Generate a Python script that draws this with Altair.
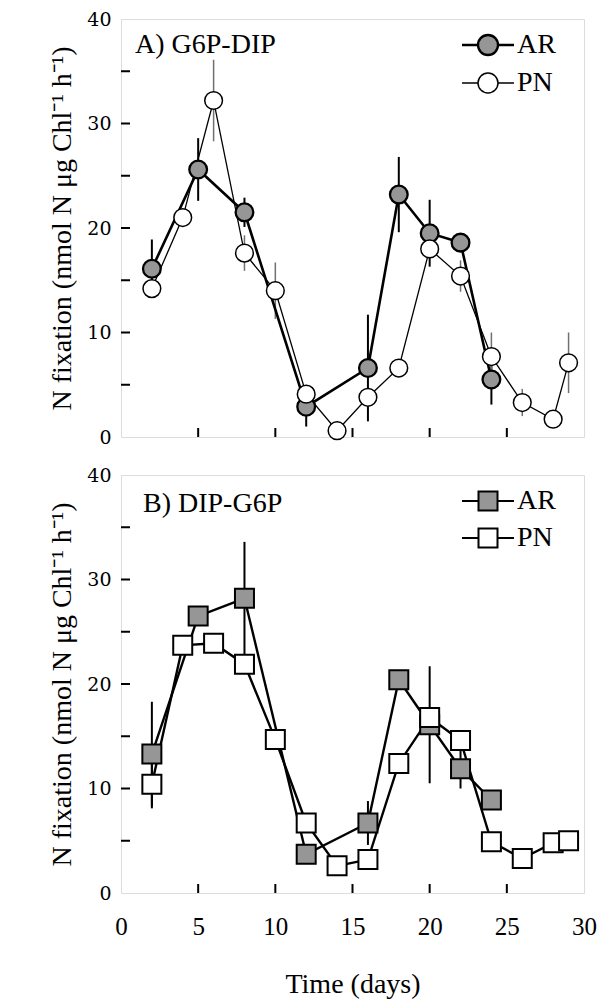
import altair as alt
import pandas as pd

# ---------------- data ----------------
days_A_AR = [2, 5, 8, 12, 16, 18, 20, 22, 24]
vals_A_AR = [16.1, 25.6, 21.5, 2.9, 6.6, 23.2, 19.5, 18.6, 5.5]
errs_A_AR = [2.8, 3.0, 1.4, 1.9, 5.1, 3.6, 3.2, 0.0, 2.4]

days_A_PN = [2, 4, 6, 8, 10, 12, 14, 16, 18, 20, 22, 24, 26, 28, 29]
vals_A_PN = [14.2, 21.0, 32.2, 17.6, 14.0, 4.1, 0.6, 3.8, 6.6, 18.0, 15.4, 7.7, 3.3, 1.7, 7.1]
errs_A_PN = [0.0, 0.0, 3.9, 1.7, 2.7, 0.0, 0.0, 0.0, 0.0, 0.0, 1.5, 2.3, 1.3, 0.0, 2.9]

days_B_AR = [2, 5, 8, 12, 16, 18, 20, 22, 24]
vals_B_AR = [13.3, 26.5, 28.2, 3.7, 6.7, 20.4, 16.1, 11.9, 8.9]
errs_B_AR = [5.0, 0.0, 5.4, 0.0, 2.1, 0.0, 5.6, 1.9, 0.4]

days_B_PN = [2, 4, 6, 8, 10, 12, 14, 16, 18, 20, 22, 24, 26, 28, 29]
vals_B_PN = [10.4, 23.7, 23.9, 21.9, 14.7, 6.7, 2.6, 3.2, 12.4, 16.8, 14.6, 4.9, 3.3, 4.8, 5.0]
errs_B_PN = [2.3, 0.0, 0.0, 0.0, 0.0, 0.0, 0.0, 0.0, 0.0, 0.0, 0.0, 0.0, 0.0, 0.0, 0.0]

series_names = ["AR", "PN"]
panel_labels = ["A) G6P-DIP", "B) DIP-G6P"]
y_label_values = [0, 10, 20, 30, 40]
y_tick_values = [5, 10, 15, 20, 25, 30, 35]
x_label_values = [0, 5, 10, 15, 20, 25, 30]
x_tick_values = [5, 10, 15, 20, 25]

Y_TITLE = "N fixation (nmol N \u03bcg Chl\u207b\u00b9 h\u207b\u00b9)"
SERIF = "Liberation Serif, Times New Roman, serif"
GRAY = "#969696"
W, H = 463, 418


def frame(days, vals, errs, name):
    return pd.DataFrame({
        "day": days, "value": vals, "err": errs,
        "lo": [v - e for v, e in zip(vals, errs)],
        "hi": [v + e for v, e in zip(vals, errs)],
        "series": name,
    })


CIRCLE_PATH = "M-2.6,0H-1A1,1,0,1,1,1,0A1,1,0,1,1,-1,0M1,0H2.6"
SQUARE_PATH = "M-2.6,0H-0.95V-0.95H0.95V0.95H-0.95V0ZM0.95,0H2.6"


def panel(df_ar, df_pn, shape, path, label, bottom, lw_ar, lw_pn, pw, errc_pn, errw_pn, label_x, label_y):
    xs = alt.Scale(domain=[0, 30], nice=False)
    ys = alt.Scale(domain=[0, 40], nice=False)
    if bottom:
        xaxis = alt.Axis(values=x_label_values, ticks=False, domain=False, grid=False,
                         labelFont=SERIF, labelFontSize=25, labelPadding=21, labelFlush=False,
                         labelColor="black", title="Time (days)", titleFont=SERIF,
                         titleFontSize=28, titleFontWeight="normal", titleColor="black",
                         titlePadding=31)
    else:
        xaxis = alt.Axis(labels=False, ticks=False, domain=False, grid=False, title=None)
    yaxis = alt.Axis(values=y_label_values, ticks=False, domain=False, grid=False,
                     labelFont="DejaVu Serif", labelFontSize=19, labelPadding=10,
                     labelColor="black", title=Y_TITLE, titleFont=SERIF, titleFontSize=28,
                     titleFontWeight="normal", titleColor="black", titlePadding=10)

    X = alt.X("day:Q", scale=xs, axis=xaxis)
    Y = alt.Y("value:Q", scale=ys, axis=yaxis)

    err_ar = alt.Chart(df_ar[df_ar.err > 0]).mark_rule(color="black", strokeWidth=2).encode(
        x=alt.X("day:Q", scale=xs), y=alt.Y("lo:Q", scale=ys), y2="hi:Q")
    err_pn = alt.Chart(df_pn[df_pn.err > 0]).mark_rule(color=errc_pn, strokeWidth=errw_pn).encode(
        x=alt.X("day:Q", scale=xs), y=alt.Y("lo:Q", scale=ys), y2="hi:Q")
    line_ar = alt.Chart(df_ar).mark_line(color="black", strokeWidth=lw_ar).encode(x=X, y=Y)
    line_pn = alt.Chart(df_pn).mark_line(color="black", strokeWidth=lw_pn).encode(x=X, y=Y)

    both = pd.concat([df_ar, df_pn], ignore_index=True)
    size = 314 if shape == "circle" else 361
    leg = alt.Legend(title=None, orient="none", legendX=353, legendY=12,
                     symbolType=path, symbolSize=400,
                     symbolStrokeColor="black",
                     labelFont=SERIF, labelFontSize=28, labelColor="black",
                     labelOffset=15, rowPadding=9)
    pts = alt.Chart(both).mark_point(filled=True, shape=shape, size=size, stroke="black",
                                     opacity=1).encode(
        x=X, y=Y,
        fill=alt.Fill("series:N", scale=alt.Scale(domain=series_names, range=[GRAY, "white"]),
                      legend=leg),
        strokeWidth=alt.StrokeWidth("series:N", scale=alt.Scale(domain=series_names, range=pw),
                                    legend=leg),
        order=alt.Order("series:N"))

    ytk = alt.Chart(pd.DataFrame({"t": y_tick_values})).mark_rule(color="black", strokeWidth=2).encode(
        y=alt.Y("t:Q", scale=ys), x=alt.value(0), x2=alt.value(9))
    xtk = alt.Chart(pd.DataFrame({"t": x_tick_values})).mark_rule(color="black", strokeWidth=2).encode(
        x=alt.X("t:Q", scale=xs), y=alt.value(H), y2=alt.value(H - 9))
    txt = alt.Chart(pd.DataFrame({"label": [label]})).mark_text(
        align="left", baseline="alphabetic", font=SERIF, fontSize=28, color="black").encode(
        x=alt.value(label_x), y=alt.value(label_y), text="label:N")

    return alt.layer(ytk, xtk, err_ar, err_pn, line_ar, line_pn, pts, txt).properties(width=W, height=H)


top = panel(frame(days_A_AR, vals_A_AR, errs_A_AR, "AR"), frame(days_A_PN, vals_A_PN, errs_A_PN, "PN"),
            "circle", CIRCLE_PATH, panel_labels[0], False, 2.6, 1.3, [2.3, 1.5], "#707070", 1.5, 14, 34)
bot = panel(frame(days_B_AR, vals_B_AR, errs_B_AR, "AR"), frame(days_B_PN, vals_B_PN, errs_B_PN, "PN"),
            "square", SQUARE_PATH, panel_labels[1], True, 2.4, 2.4, [2.0, 2.0], "black", 2, 22, 37)

chart = alt.vconcat(top, bot, spacing=17).resolve_scale(
    fill="independent", strokeWidth="independent").properties(
    padding={"left": 48, "top": 9, "right": 0, "bottom": 0}
).configure_view(stroke="black", strokeWidth=2).configure(background="white")

chart.save("out.html", embed_options={"renderer": "svg", "actions": False})
